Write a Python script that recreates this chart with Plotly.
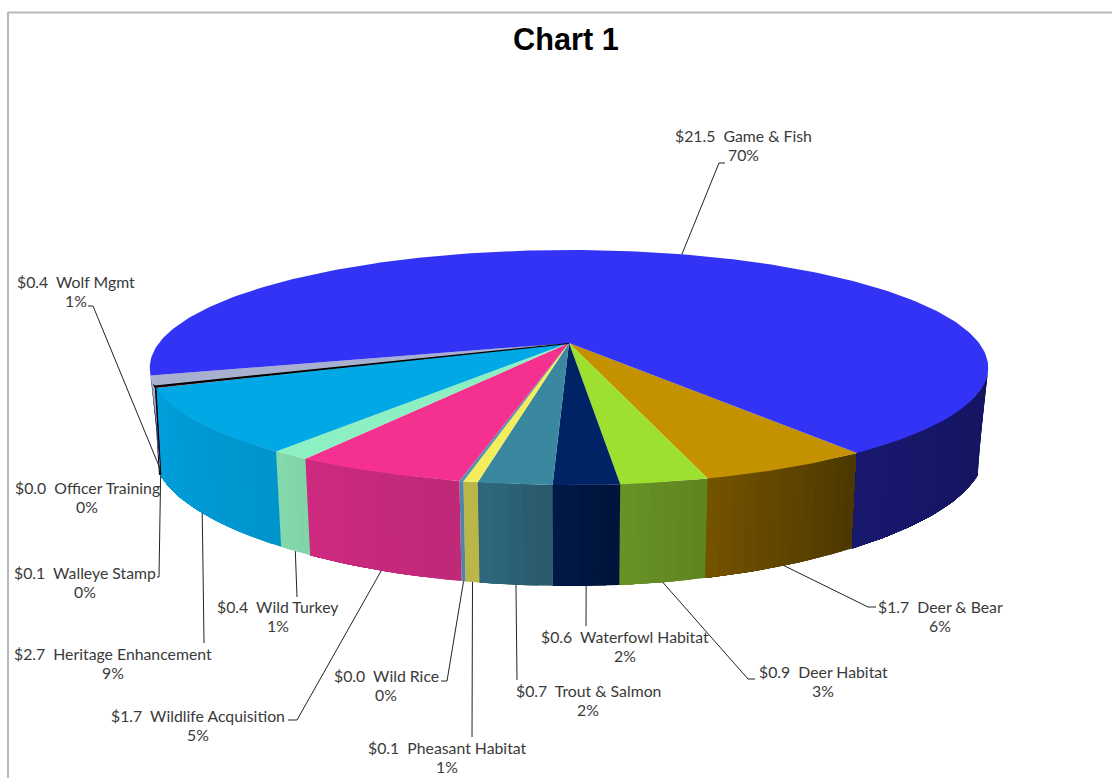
import math
import plotly.graph_objects as go

# ---- data (clockwise from the Deer & Bear slice) ----
categories = ["Deer & Bear", "Deer Habitat", "Waterfowl Habitat", "Trout & Salmon", "Pheasant Habitat",
              "Wild Rice", "Wildlife Acquisition", "Wild Turkey", "Heritage Enhancement", "Walleye Stamp",
              "Officer Training", "Wolf Mgmt", "Game & Fish"]
amounts = [1.72, 0.86, 0.645, 0.72, 0.14, 0.04, 1.69, 0.39, 2.74, 0.06, 0.04, 0.40, 21.5]
dollar_labels = ["$1.7", "$0.9", "$0.6", "$0.7", "$0.1", "$0.0", "$1.7", "$0.4", "$2.7", "$0.1", "$0.0", "$0.4", "$21.5"]
percent_labels = ["6%", "3%", "2%", "2%", "1%", "0%", "5%", "1%", "9%", "0%", "0%", "1%", "70%"]

# ---- styles ----
top_colors = ["#C49100", "#9EE02F", "#002366", "#3A87A0", "#F5EE5C", "#4F93B5", "#F5318F", "#8CF0C2",
              "#00A8E6", "#7A1A1A", "#000000", "#A8B0D0", "#3333F5"]
wall_left = ["#765400", "#6A9428", "#001A47", "#2F6A80", "#C8C24E", "#4F85A5", "#CE2A80", "#84DCAE",
             "#009FDC", "#7A1A1A", "#000000", "#A8B0D0", "#18186E"]
wall_right = ["#4C3800", "#5F8520", "#00143C", "#2A5A6C", "#BCB648", "#4F85A5", "#C02878", "#80D4A8",
              "#0094CC", "#7A1A1A", "#000000", "#A8B0D0", "#14145E"]
edge_widths = [0, 0, 0, 0, 0, 0, 0, 0, 0, 0, 2.2, 0, 0]
label_centers = [(940, 616), (823, 681), (625, 646), (588, 700), (447, 757), (386, 685), (198, 725), (278, 616),
                 (113, 663), (85, 582), (87, 497), (76, 291), (743, 145)]
leader_tails = [[(868, 607), (876, 607)], [(748, 679), (755, 679)], [(586, 626)], [(517, 680)], [(472, 737)],
                [(447, 681), (441, 681)], [(297, 720), (288, 720)], [(297, 597)], [(204, 643)],
                [(159, 577), (157, 577)], None, [(93, 306), (88, 306)], [(719, 163), (725, 163)]]

FONT = "Lato"
TEXT = "#3A3A3A"
START = 54.3


def top_xy(t):
    a = math.radians(t)
    d = 1 - 0.2085 * math.sin(a)
    return 569 + 410 * math.cos(a) / d, 343 + 112.4 * math.sin(a) / d


def bottom_xy(t):
    a = math.radians(t)
    x = 406.6 * math.cos(a) / (1 - 0.199 * math.sin(a))
    x = max(-409, min(409, x))
    y = 429.8 + 114 * math.sin(a) / (1 - 0.27 * math.sin(a))
    return 569 + x, y


def mix(c1, c2, f):
    a = [int(c1[i:i + 2], 16) for i in (1, 3, 5)]
    b = [int(c2[i:i + 2], 16) for i in (1, 3, 5)]
    return "rgb(%d,%d,%d)" % tuple(round(p + (q - p) * f) for p, q in zip(a, b))


def steps(t0, t1, size=1.0):
    n = max(1, int(abs(t1 - t0) / size))
    return [t0 + (t1 - t0) * i / n for i in range(n + 1)]


def poly(pts, color, width=0):
    xs = [p[0] for p in pts] + [pts[0][0]]
    ys = [p[1] for p in pts] + [pts[0][1]]
    return go.Scatter(x=xs, y=ys, mode="lines", fill="toself", fillcolor=color,
                      line=dict(color=color, width=width), hoverinfo="skip", showlegend=False)


total = sum(amounts)
spans = [v / total * 360 for v in amounts]
bounds = []
t = START
for s in spans:
    bounds.append((t, t + s))
    t += s

fig = go.Figure()

# walls: each strip runs to the end of its slice, and the next strip paints over it, so no seams show
for i, (t0, t1) in enumerate(bounds):
    for lo, hi in [(max(t0, 12), min(t1, 168)), (max(t0 - 360, 12), min(t1 - 360, 168))]:
        if hi <= lo:
            continue
        ts = steps(lo, hi, 1.5)
        for j in range(len(ts) - 1):
            f = (ts[j] - lo) / (hi - lo)
            arc = steps(ts[j], hi, 1.0)
            pts = [top_xy(a) for a in arc] + [bottom_xy(a) for a in reversed(arc)]
            fig.add_trace(poly(pts, mix(wall_right[i], wall_left[i], f), edge_widths[i]))

# top faces
for i, (t0, t1) in enumerate(bounds):
    pts = [(569, 343)] + [top_xy(a) for a in steps(t0, t1, 1.0)]
    fig.add_trace(poly(pts, top_colors[i], edge_widths[i]))

# leaders
for i, tail in enumerate(leader_tails):
    if tail is None:
        continue
    mid = 0.5 * (bounds[i][0] + bounds[i][1])
    head = top_xy(mid) if categories[i] == "Game & Fish" else bottom_xy(mid)
    pts = [head] + tail
    fig.add_trace(go.Scatter(x=[p[0] for p in pts], y=[p[1] for p in pts], mode="lines",
                             line=dict(color="#222222", width=1), hoverinfo="skip", showlegend=False))

# labels
annotations = []
for name, d, p, (cx, cy) in zip(categories, dollar_labels, percent_labels, label_centers):
    for text, yy in ((f"{d}  {name}", cy - 9.5), (p, cy + 9.5)):
        annotations.append(dict(x=cx, y=yy, xref="x", yref="y", showarrow=False, align="center",
                                text=text, font=dict(family=FONT, size=15.8, color=TEXT)))
annotations.append(dict(x=566, y=39, xref="x", yref="y", showarrow=False, text="<b>Chart 1</b>",
                        font=dict(family="Liberation Sans", size=30.7, color="#000000")))

fig.update_layout(
    width=1112, height=778, margin=dict(l=0, r=0, t=0, b=0), paper_bgcolor="white", plot_bgcolor="white",
    showlegend=False, annotations=annotations,
    xaxis=dict(range=[0, 1112], visible=False, fixedrange=True),
    yaxis=dict(range=[778, 0], visible=False, fixedrange=True),
    shapes=[dict(type="line", x0=8, x1=8, y0=12, y1=778, line=dict(color="#B8B8B8", width=2)),
            dict(type="line", x0=8, x1=1112, y0=12.5, y1=12.5, line=dict(color="#B8B8B8", width=2))],
)
fig.write_html("out.html", config={"displayModeBar": False},
               post_script="document.body.style.margin='0';document.body.style.overflow='hidden';")
